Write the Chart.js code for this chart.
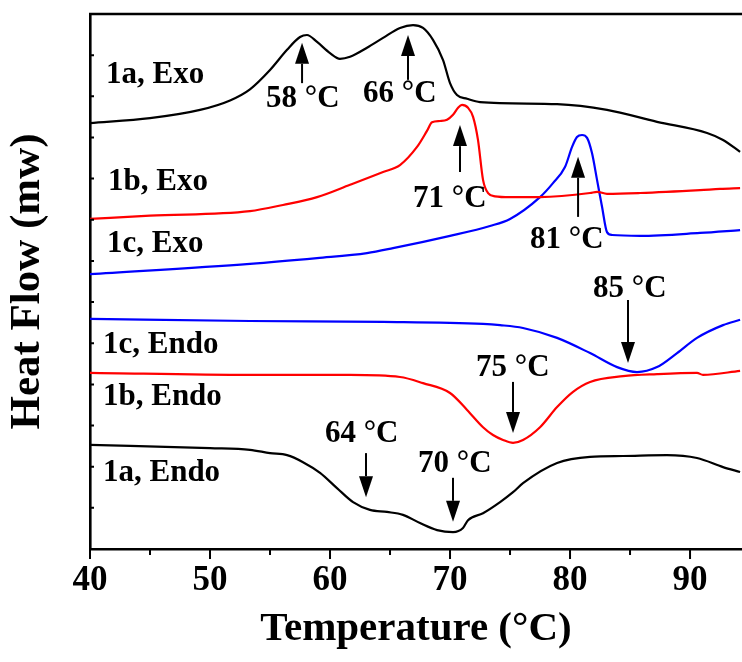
<!DOCTYPE html>
<html>
<head>
<meta charset="utf-8">
<script src="https://cdn.jsdelivr.net/npm/chart.js@4.4.1/dist/chart.umd.min.js"></script>
<style>
  html, body { margin: 0; padding: 0; background: #fff; }
  #wrap { width: 742px; height: 662px; }
</style>
</head>
<body>
<div id="wrap"><canvas id="c" width="742" height="662"></canvas></div>
<script>
// ---- data (Temperature in °C, heat flow in arbitrary offset units) ----
const temp1aExo = [40, 45, 49.17, 51.67, 53.33, 55, 56.42, 57.5, 58.08, 58.92, 60, 60.83, 61.67, 63.08, 64.42, 65.83, 66.92, 67.75, 68.58, 69.42, 70, 70.58, 71.42, 72.5, 78.92, 83.08, 87.25, 91.42, 92.75, 94.17];
const flow1aExo = [10.35, 10.47, 10.67, 10.90, 11.17, 11.64, 12.13, 12.44, 12.49, 12.32, 12.05, 11.91, 11.96, 12.18, 12.42, 12.66, 12.73, 12.66, 12.37, 11.88, 11.32, 11.03, 10.94, 10.86, 10.81, 10.67, 10.38, 10.11, 9.94, 9.65];

const temp1bExo = [40, 45, 53.33, 56.08, 58.92, 61.67, 64.42, 65.83, 67.25, 68.08, 68.5, 69.17, 69.75, 70.25, 70.67, 71, 71.5, 71.92, 72.33, 72.75, 73.17, 73.75, 75, 77.5, 81.67, 82.25, 83.08, 85.83, 90.83, 92.5, 94.17];
const flow1bExo = [8.02, 8.10, 8.21, 8.36, 8.55, 8.85, 9.16, 9.33, 9.77, 10.16, 10.37, 10.40, 10.43, 10.55, 10.72, 10.79, 10.72, 10.50, 9.94, 8.97, 8.65, 8.57, 8.55, 8.55, 8.65, 8.68, 8.63, 8.65, 8.72, 8.75, 8.77];

const temp1cExo = [40, 53.33, 58.92, 63.08, 65.25, 70, 73.33, 75, 77.5, 78.58, 79.58, 80.17, 80.58, 81, 81.42, 81.83, 82.25, 82.67, 83.08, 83.5, 85.83, 90.83, 94.17];
const flow1cExo = [6.68, 6.93, 7.07, 7.19, 7.31, 7.61, 7.85, 8.02, 8.55, 8.89, 9.28, 9.77, 10.01, 10.06, 9.99, 9.62, 8.97, 8.31, 7.70, 7.63, 7.61, 7.68, 7.75];

const temp1cEndo = [40, 53.33, 64.42, 72.75, 74.17, 76.08, 78.92, 81.67, 83.92, 85.58, 87.25, 88.92, 90.58, 92.75, 94.17];
const flow1cEndo = [5.59, 5.54, 5.52, 5.47, 5.44, 5.37, 5.13, 4.76, 4.42, 4.30, 4.42, 4.76, 5.13, 5.44, 5.57];

const temp1bEndo = [40, 53.33, 61.67, 65.83, 67.75, 70, 71.42, 72.75, 73.58, 74.42, 75.25, 76.08, 77.5, 78.92, 80.25, 81.67, 84.42, 87.25, 90.58, 91.08, 94.17];
const flow1bEndo = [4.28, 4.23, 4.23, 4.18, 4.03, 3.79, 3.38, 2.96, 2.77, 2.65, 2.58, 2.65, 2.96, 3.45, 3.82, 4.06, 4.20, 4.25, 4.28, 4.23, 4.33];

const temp1aEndo = [40, 50, 53.33, 55, 56.42, 57.75, 59.17, 60.58, 61.92, 63.33, 64.75, 66.08, 67.5, 68.92, 70.25, 71.08, 71.5, 72.75, 74.17, 75.25, 76.08, 78.92, 81.67, 84.42, 88.08, 90.58, 92.75, 94.17];
const flow1aEndo = [2.53, 2.45, 2.41, 2.33, 2.28, 2.11, 1.85, 1.48, 1.14, 0.95, 0.90, 0.83, 0.63, 0.46, 0.41, 0.51, 0.70, 0.87, 1.14, 1.38, 1.60, 2.09, 2.24, 2.26, 2.28, 2.21, 1.99, 1.87];

// tick labels / tick positions
const xTickValues = [40, 50, 60, 70, 80, 90];
const xMinorValues = [45, 55, 65, 75, 85];
const yTickValues = [0, 1, 2, 3, 4, 5, 6, 7, 8, 9, 10, 11, 12, 13];

// text annotations (anchored in data coordinates)
const curveLabels = [
  { text: '1a, Exo', x: 41.33, y: 11.32 },
  { text: '1b, Exo', x: 41.5, y: 8.72 },
  { text: '1c, Exo', x: 41.42, y: 7.22 },
  { text: '1c, Endo', x: 41.08, y: 4.76 },
  { text: '1b, Endo', x: 41.08, y: 3.50 },
  { text: '1a, Endo', x: 41.08, y: 1.65 }
];
const peakLabels = [
  { text: '58 °C', x: 54.67, y: 10.74 },
  { text: '66 °C', x: 62.75, y: 10.86 },
  { text: '71 °C', x: 66.92, y: 8.31 },
  { text: '81 °C', x: 76.67, y: 7.31 },
  { text: '85 °C', x: 81.92, y: 6.12 },
  { text: '75 °C', x: 72.17, y: 4.20 },
  { text: '64 °C', x: 59.58, y: 2.60 },
  { text: '70 °C', x: 67.33, y: 1.87 }
];
const peakArrows = [
  { x: 57.67, from: 11.32, to: 12.30 },
  { x: 66.5, from: 11.40, to: 12.49 },
  { x: 70.83, from: 9.16, to: 10.30 },
  { x: 80.67, from: 8.07, to: 9.53 },
  { x: 84.83, from: 6.05, to: 4.52 },
  { x: 75.25, from: 4.06, to: 2.82 },
  { x: 63.0, from: 2.33, to: 1.26 },
  { x: 70.25, from: 1.73, to: 0.66 }
];

const FONT = '"Liberation Serif", "Times New Roman", Times, serif';

function pts(xs, ys) { return xs.map((v, i) => ({ x: v, y: ys[i] })); }
function ds(label, xs, ys, color) {
  return {
    label, data: pts(xs, ys), borderColor: color, backgroundColor: color,
    borderWidth: 2.2, pointRadius: 0, fill: false,
    cubicInterpolationMode: 'monotone', tension: 0.4
  };
}

const framePlugin = {
  id: 'frameTicks',
  afterDraw(chart) {
    const { ctx, chartArea: a, scales: { x, y } } = chart;
    ctx.save();
    ctx.strokeStyle = '#000';
    ctx.lineWidth = 2.6;
    ctx.beginPath();
    ctx.moveTo(a.left - 1, a.top);
    ctx.lineTo(a.right, a.top);
    ctx.stroke();
    ctx.lineWidth = 2;
    ctx.beginPath();
    xTickValues.forEach(v => { const px = x.getPixelForValue(v); ctx.moveTo(px, a.bottom); ctx.lineTo(px, a.bottom + 10); });
    xMinorValues.forEach(v => { const px = x.getPixelForValue(v); ctx.moveTo(px, a.bottom); ctx.lineTo(px, a.bottom + 6); });
    yTickValues.forEach(v => { const py = y.getPixelForValue(v); ctx.moveTo(a.left, py); ctx.lineTo(a.left + 4, py); });
    ctx.stroke();
    ctx.restore();
  }
};

const annotatePlugin = {
  id: 'dscAnnotations',
  afterDatasetsDraw(chart) {
    const { ctx, scales: { x, y } } = chart;
    ctx.save();
    ctx.fillStyle = '#000';
    ctx.strokeStyle = '#000';
    ctx.font = 'bold 31px ' + FONT;
    ctx.textAlign = 'left';
    ctx.textBaseline = 'alphabetic';
    curveLabels.concat(peakLabels).forEach(n => {
      ctx.fillText(n.text, x.getPixelForValue(n.x), y.getPixelForValue(n.y));
    });
    peakArrows.forEach(ar => {
      const px = x.getPixelForValue(ar.x);
      const y0 = y.getPixelForValue(ar.from);
      const y1 = y.getPixelForValue(ar.to);
      const dir = y1 < y0 ? -1 : 1;
      const headLen = 21, halfW = 7;
      ctx.lineWidth = 2;
      ctx.beginPath();
      ctx.moveTo(px, y0);
      ctx.lineTo(px, y1 - dir * headLen);
      ctx.stroke();
      ctx.beginPath();
      ctx.moveTo(px, y1);
      ctx.lineTo(px - halfW, y1 - dir * headLen);
      ctx.lineTo(px + halfW, y1 - dir * headLen);
      ctx.closePath();
      ctx.fill();
    });
    ctx.restore();
  }
};

new Chart(document.getElementById('c'), {
  type: 'line',
  data: {
    datasets: [
      ds('1a, Exo', temp1aExo, flow1aExo, '#000000'),
      ds('1b, Exo', temp1bExo, flow1bExo, '#ff0000'),
      ds('1c, Exo', temp1cExo, flow1cExo, '#0000ff'),
      ds('1c, Endo', temp1cEndo, flow1cEndo, '#0000ff'),
      ds('1b, Endo', temp1bEndo, flow1bEndo, '#ff0000'),
      ds('1a, Endo', temp1aEndo, flow1aEndo, '#000000')
    ]
  },
  options: {
    responsive: false,
    animation: false,
    devicePixelRatio: 1,
    layout: { padding: { top: 14, right: 0, left: 0, bottom: 0 } },
    plugins: { legend: { display: false }, tooltip: { enabled: false } },
    scales: {
      x: {
        type: 'linear',
        min: 40, max: 94.33,
        afterFit: s => { s.height = 113; },
        afterBuildTicks: s => { s.ticks = xTickValues.map(v => ({ value: v })); },
        grid: { display: false, drawTicks: false },
        border: { display: true, color: '#000', width: 2.6 },
        ticks: { color: '#000', padding: 11, font: { family: FONT, weight: 'bold', size: 35 } },
        title: { display: true, text: 'Temperature (°C)', color: '#000', padding: { top: 0, bottom: 8 }, font: { family: FONT, weight: 'bold', size: 41 } }
      },
      y: {
        type: 'linear',
        min: 0, max: 13,
        afterFit: s => { s.width = 90; },
        grid: { display: false, drawTicks: false },
        border: { display: true, color: '#000', width: 2.6 },
        ticks: { display: false, stepSize: 1 },
        title: { display: true, text: 'Heat Flow (mw)', color: '#000', padding: { top: 2, bottom: 0 }, font: { family: FONT, weight: 'bold', size: 43 } }
      }
    }
  },
  plugins: [framePlugin, annotatePlugin]
});
</script>
</body>
</html>
